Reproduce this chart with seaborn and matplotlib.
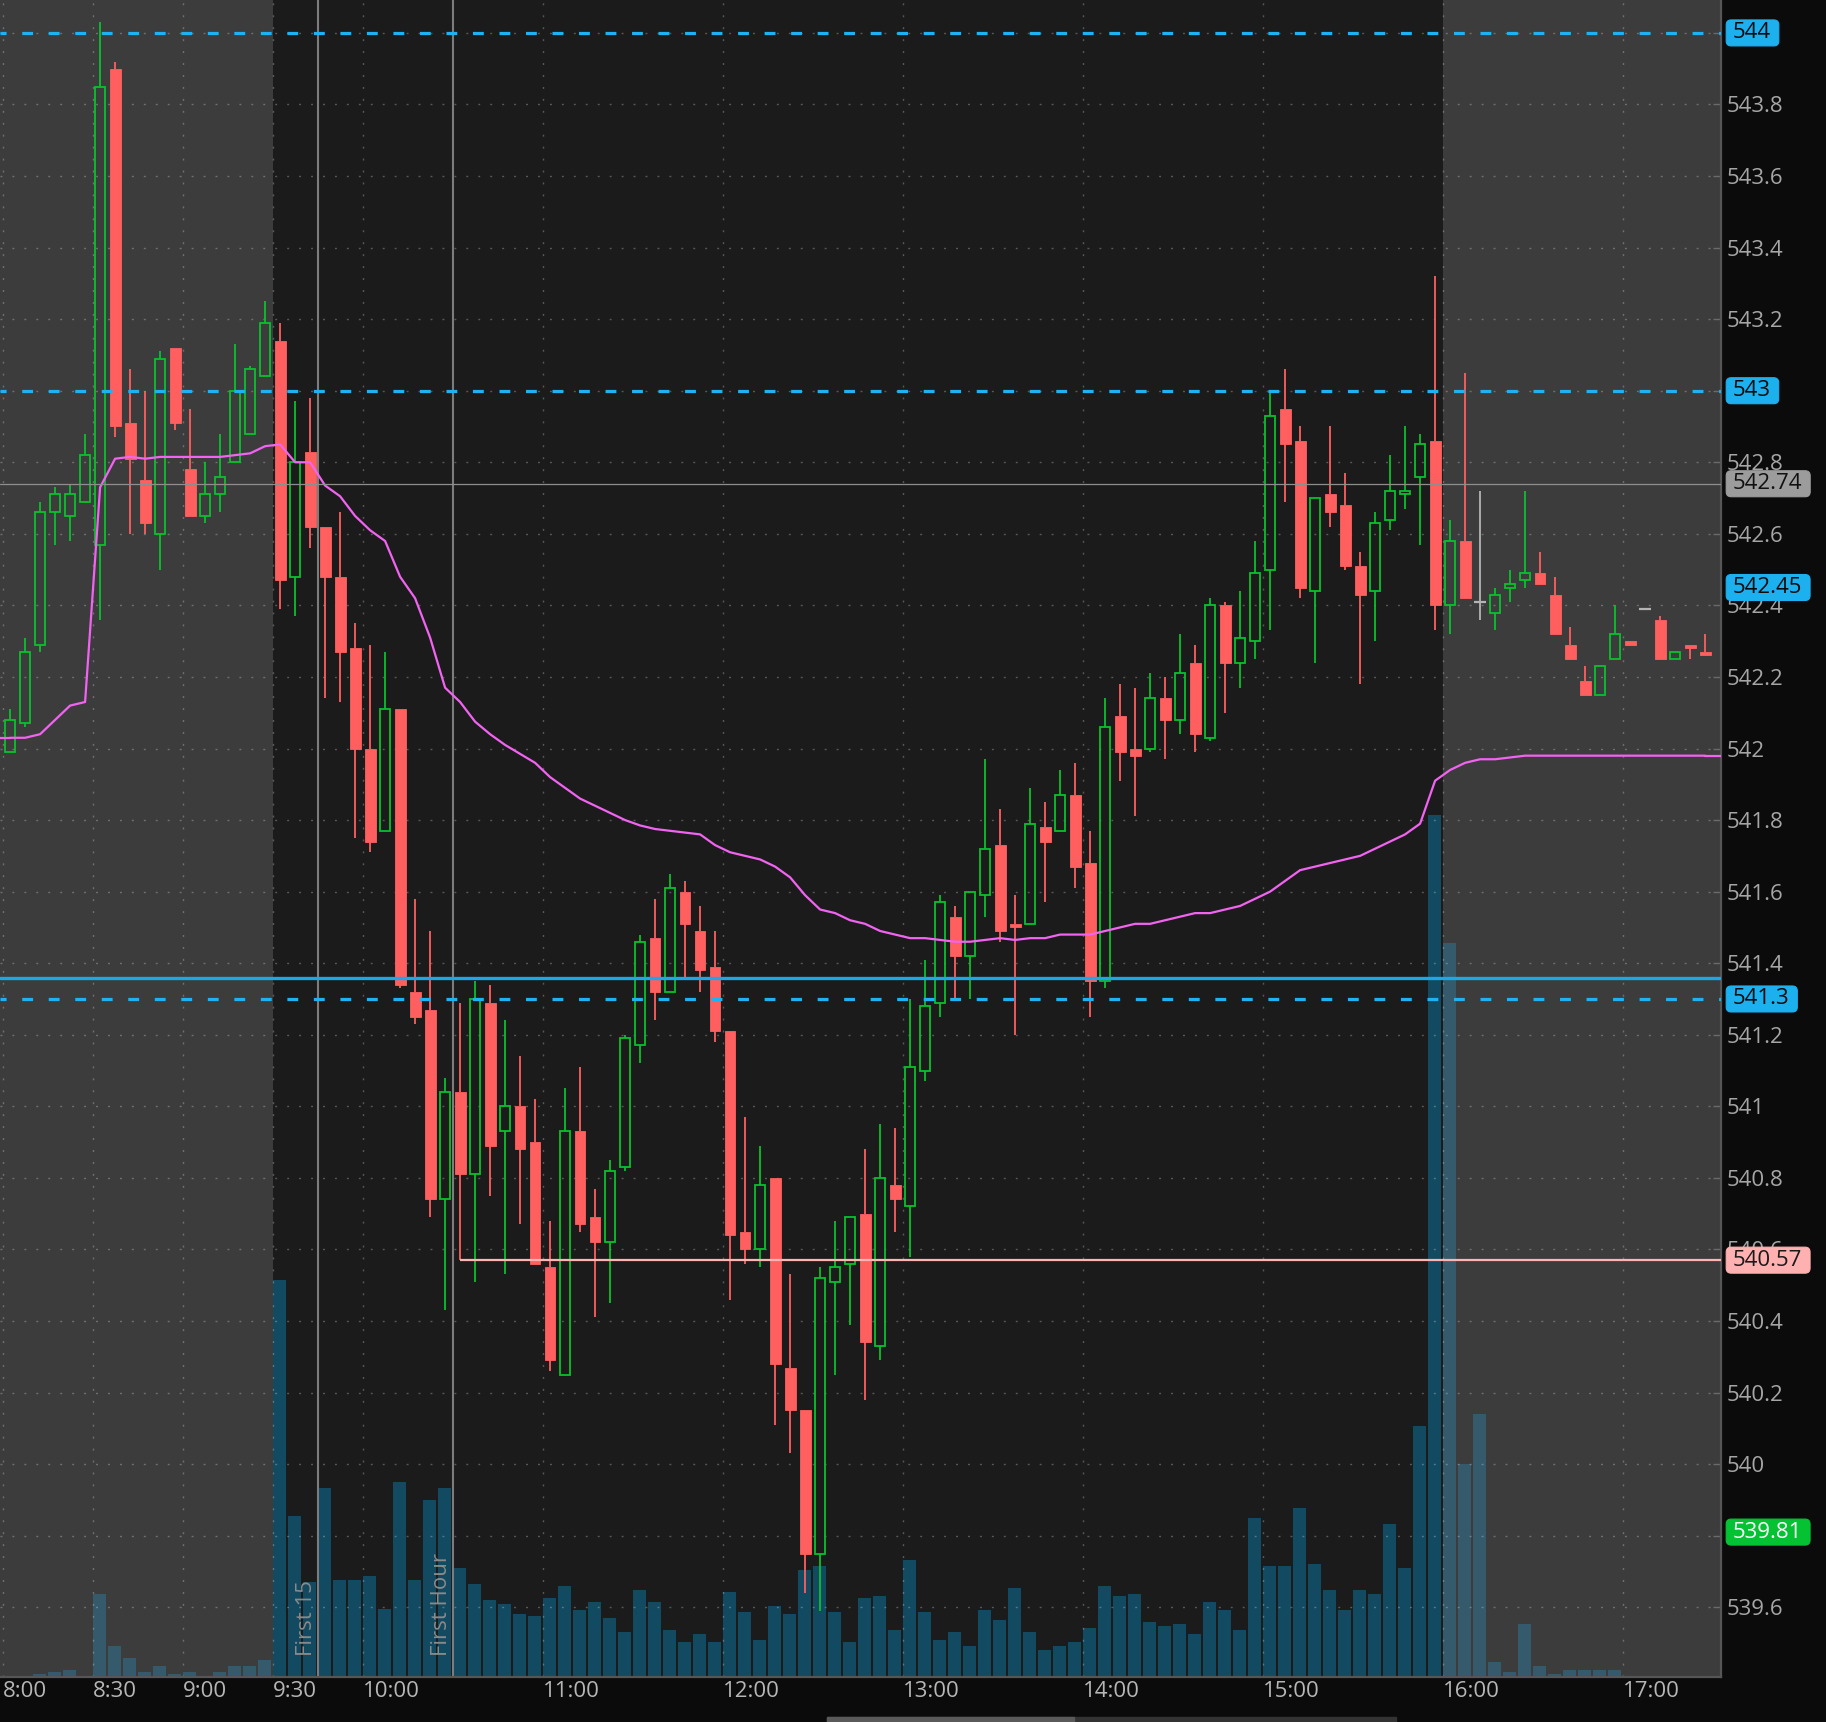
import numpy as np
import pandas as pd
import matplotlib
matplotlib.use("Agg")
import matplotlib.pyplot as plt
from matplotlib.patches import FancyBboxPatch, Rectangle
import seaborn as sns

# ---------------- data (5-minute candles starting 8:00) ----------------
opens = [541.99, 542.07, 542.29, 542.66, 542.65, 542.69, 542.57, 543.90, 542.91, 542.75,
         542.60, 543.12, 542.78, 542.65, 542.71, 542.80, 542.88, 543.04, 543.14, 542.48,
         542.83, 542.62, 542.48, 542.28, 542.00, 541.77, 542.11, 541.32, 541.27, 540.74,
         541.04, 540.81, 541.29, 540.93, 541.00, 540.90, 540.55, 540.25, 540.93, 540.69,
         540.62, 540.83, 541.17, 541.47, 541.32, 541.60, 541.49, 541.39, 541.21, 540.65,
         540.60, 540.80, 540.27, 540.15, 539.75, 540.51, 540.56, 540.70, 540.33, 540.78,
         540.72, 541.10, 541.29, 541.53, 541.42, 541.59, 541.73, 541.51, 541.51, 541.78,
         541.77, 541.87, 541.68, 541.35, 542.09, 542.00, 542.00, 542.14, 542.08, 542.24,
         542.03, 542.40, 542.24, 542.30, 542.50, 542.95, 542.86, 542.44, 542.71, 542.68,
         542.51, 542.44, 542.64, 542.71, 542.76, 542.86, 542.40, 542.58, 542.41, 542.38,
         542.45, 542.47, 542.49, 542.43, 542.29, 542.19, 542.15, 542.25, 542.30, 542.39,
         542.36, 542.25, 542.29, 542.27]
highs = [542.11, 542.31, 542.69, 542.73, 542.74, 542.88, 544.03, 543.92, 543.06, 543.00,
         543.11, 543.12, 542.95, 542.80, 542.88, 543.13, 543.07, 543.25, 543.19, 542.97,
         542.98, 542.62, 542.66, 542.35, 542.29, 542.27, 542.11, 541.58, 541.49, 541.08,
         541.29, 541.35, 541.34, 541.24, 541.14, 541.02, 540.68, 541.05, 541.11, 540.77,
         540.85, 541.20, 541.48, 541.58, 541.65, 541.63, 541.56, 541.49, 541.21, 540.97,
         540.89, 540.80, 540.53, 540.15, 540.55, 540.68, 540.69, 540.88, 540.95, 540.94,
         541.30, 541.41, 541.59, 541.56, 541.60, 541.97, 541.83, 541.59, 541.89, 541.85,
         541.94, 541.96, 541.77, 542.14, 542.18, 542.17, 542.21, 542.20, 542.32, 542.29,
         542.42, 542.41, 542.44, 542.58, 543.00, 543.06, 542.90, 542.70, 542.90, 542.77,
         542.55, 542.66, 542.82, 542.90, 542.88, 543.32, 542.64, 543.05, 542.72, 542.45,
         542.50, 542.72, 542.55, 542.48, 542.34, 542.23, 542.23, 542.40, 542.30, 542.39,
         542.37, 542.27, 542.29, 542.32]
lows = [541.99, 542.06, 542.27, 542.57, 542.58, 542.69, 542.36, 542.87, 542.60, 542.60,
        542.50, 542.89, 542.65, 542.63, 542.66, 542.80, 542.88, 543.04, 542.39, 542.37,
        542.56, 542.14, 542.13, 541.75, 541.71, 541.77, 541.33, 541.23, 540.69, 540.43,
        540.57, 540.51, 540.75, 540.53, 540.67, 540.56, 540.26, 540.25, 540.65, 540.41,
        540.45, 540.82, 541.12, 541.24, 541.32, 541.36, 541.32, 541.18, 540.46, 540.56,
        540.55, 540.11, 540.03, 539.64, 539.59, 540.25, 540.39, 540.18, 540.29, 540.65,
        540.58, 541.07, 541.25, 541.30, 541.30, 541.53, 541.46, 541.20, 541.51, 541.57,
        541.77, 541.61, 541.25, 541.33, 541.91, 541.81, 541.99, 541.97, 542.04, 541.99,
        542.02, 542.10, 542.17, 542.25, 542.33, 542.69, 542.42, 542.24, 542.62, 542.50,
        542.18, 542.30, 542.61, 542.67, 542.57, 542.33, 542.32, 542.42, 542.36, 542.33,
        542.41, 542.45, 542.46, 542.32, 542.25, 542.15, 542.15, 542.25, 542.29, 542.39,
        542.25, 542.25, 542.25, 542.26]
closes = [542.08, 542.27, 542.66, 542.71, 542.71, 542.82, 543.85, 542.90, 542.81, 542.63,
          543.09, 542.91, 542.65, 542.71, 542.76, 543.00, 543.06, 543.19, 542.47, 542.80,
          542.62, 542.48, 542.27, 542.00, 541.74, 542.11, 541.34, 541.25, 540.74, 541.04,
          540.81, 541.30, 540.89, 541.00, 540.88, 540.56, 540.29, 540.93, 540.67, 540.62,
          540.82, 541.19, 541.46, 541.32, 541.61, 541.51, 541.38, 541.21, 540.64, 540.60,
          540.78, 540.28, 540.15, 539.75, 540.52, 540.55, 540.69, 540.34, 540.80, 540.74,
          541.11, 541.28, 541.57, 541.42, 541.60, 541.72, 541.49, 541.50, 541.79, 541.74,
          541.87, 541.67, 541.35, 542.06, 541.99, 541.98, 542.14, 542.08, 542.21, 542.04,
          542.40, 542.24, 542.31, 542.49, 542.93, 542.85, 542.45, 542.70, 542.66, 542.51,
          542.43, 542.63, 542.72, 542.72, 542.85, 542.40, 542.58, 542.42, 542.41, 542.43,
          542.46, 542.49, 542.46, 542.32, 542.25, 542.15, 542.23, 542.32, 542.29, 542.39,
          542.25, 542.27, 542.28, 542.26]
volumes_k = [0, 0, 3, 5, 7, 0, 83, 31, 19, 5,
             11, 3, 5, 1, 5, 11, 11, 17, 397, 161,
             95, 189, 97, 97, 101, 68, 195, 97, 177, 189,
             109, 93, 77, 73, 63, 61, 79, 91, 67, 75,
             59, 45, 87, 75, 47, 35, 43, 35, 85, 65,
             37, 71, 63, 107, 111, 65, 35, 79, 81, 47,
             117, 65, 37, 45, 31, 67, 57, 89, 45, 27,
             31, 35, 49, 91, 81, 83, 55, 51, 53, 43,
             75, 67, 47, 159, 111, 111, 169, 113, 87, 67,
             87, 83, 153, 109, 251, 862, 734, 213, 263, 15,
             5, 53, 11, 3, 7, 7, 7, 7, 0, 0,
             0, 0, 0, 0]
vwap = [542.03, 542.03, 542.04, 542.08, 542.12, 542.13, 542.73, 542.81, 542.815, 542.81,
        542.815, 542.815, 542.815, 542.815, 542.815, 542.82, 542.825, 542.845, 542.85, 542.80,
        542.80, 542.735, 542.705, 542.65, 542.61, 542.58, 542.48, 542.42, 542.31, 542.17,
        542.13, 542.075, 542.04, 542.01, 541.985, 541.96, 541.92, 541.89, 541.86, 541.84,
        541.82, 541.80, 541.785, 541.775, 541.77, 541.765, 541.76, 541.73, 541.71, 541.70,
        541.69, 541.67, 541.64, 541.59, 541.55, 541.54, 541.52, 541.51, 541.49, 541.48,
        541.47, 541.47, 541.465, 541.46, 541.46, 541.465, 541.47, 541.465, 541.47, 541.47,
        541.48, 541.48, 541.48, 541.49, 541.50, 541.51, 541.51, 541.52, 541.53, 541.54,
        541.54, 541.55, 541.56, 541.58, 541.60, 541.63, 541.66, 541.67, 541.68, 541.69,
        541.70, 541.72, 541.74, 541.76, 541.79, 541.91, 541.94, 541.96, 541.97, 541.97,
        541.975, 541.98, 541.98, 541.98, 541.98, 541.98, 541.98, 541.98, 541.98, 541.98,
        541.98, 541.98, 541.98, 541.98]

time_labels = ['8:00', '8:30', '9:00', '9:30', '10:00', '11:00', '12:00',
               '13:00', '14:00', '15:00', '16:00', '17:00']
session_open = '9:30'
session_close = '16:00'
first15_time = '9:45'
first_hour_time = '10:30'

dashed_levels = [544.0, 543.0, 541.3]
solid_level = 541.36
last_level = 542.74
low_level = 540.57
low_level_start = '10:30'
badges = [('544', 544.0, '#1cb0ef', '#0b0b0b'),
          ('543', 543.0, '#1cb0ef', '#0b0b0b'),
          ('542.74', 542.74, '#9c9c9c', '#111111'),
          ('542.45', 542.45, '#1cb0ef', '#0b0b0b'),
          ('541.3', 541.3, '#1cb0ef', '#0b0b0b'),
          ('540.57', 540.57, '#ffb0b0', '#1a1a1a'),
          ('539.81', 539.81, '#05c232', '#ffffff')]
price_ticks = [539.6, 539.8, 540.0, 540.2, 540.4, 540.6, 540.8, 541.0, 541.2, 541.4,
               541.6, 541.8, 542.0, 542.2, 542.4, 542.6, 542.8, 543.0, 543.2, 543.4,
               543.6, 543.8, 544.0]
hidden_tick_labels = [539.8, 543.0, 544.0]   # fully covered by badges


def to_min(t):
    hh, mm = t.split(':')
    return (int(hh) - 8) * 60 + int(mm)


# ---------------- style ----------------
sns.set_theme(style='dark')
plt.rcParams['font.family'] = ['Open Sans', 'DejaVu Sans']
plt.rcParams['axes.axisbelow'] = True

BG = '#1b1b1b'
SHADE = '#3c3c3c'
GREEN = '#08c22c'
RED = '#ff5f5f'
GRAYC = '#b4b4b4'

W, H = 1826, 1722
fig = plt.figure(figsize=(W / 100, H / 100), dpi=100, facecolor='#0b0b0b')
ax_l, ax_b, ax_w, ax_h = 0, 45 / H, 1720.7 / W, 1677 / H
ax2 = fig.add_axes([ax_l, ax_b, ax_w, ax_h])
ax = fig.add_axes([ax_l, ax_b, ax_w, ax_h], sharex=ax2)
ax2.set_zorder(0)
ax.set_zorder(1)
ax.patch.set_visible(False)
ax2.set_facecolor(BG)

df = pd.DataFrame({'open': opens, 'high': highs, 'low': lows, 'close': closes,
                   'vol': volumes_k, 'vwap': vwap})
df['slot'] = np.arange(len(df)) * 5.0
df['mid'] = df['slot'] + 2.5

x0, x1 = -2.6 / 3, (1720.7 - 2.6) / 3
ymin, ymax = 539.405, 544.092

# shading of extended hours + volume
so, sc = to_min(session_open), to_min(session_close)
ax2.axvspan(x0 - 5, so, color=SHADE, lw=0, zorder=0)
ax2.axvspan(sc, x1 + 5, color=SHADE, lw=0, zorder=0)
ext = (df['slot'] < so) | (df['slot'] >= sc)
vcols = np.where(ext, '#355a6b', '#124a62')
ax2.bar(df['slot'] + 0.05, df['vol'], width=4.5, align='edge', color=vcols,
        lw=0, zorder=1)
ax2.set_ylim(0, 1677)
ax2.set_yticks([])
ax2.tick_params(axis='both', which='both', length=0, labelbottom=False,
                labelleft=False, labelright=False, labeltop=False)
for s in ax2.spines.values():
    s.set_visible(False)

# reference vertical lines
for t, lab in [(first15_time, 'First 15'), (first_hour_time, 'First Hour')]:
    xm = to_min(t)
    ax.axvline(xm, color='#7c7c7c', lw=1.5, zorder=1.5)
    ax.text(xm - 0.2, 0.0125, lab, rotation=90, ha='right', va='bottom',
            transform=ax.get_xaxis_transform(), color='#8a8a8a', fontsize=16,
            zorder=1.6)

# candles
o = df['open'].values; c = df['close'].values
h = df['high'].values; l = df['low'].values
mid = df['mid'].values
up = c > o; dn = c < o; fl = ~(up | dn)
cols = np.where(up, GREEN, np.where(dn, RED, GRAYC))
bhi = np.maximum(o, c); blo = np.minimum(o, c)
ax.vlines(mid, bhi, h, colors=cols, lw=1.3, zorder=3)
ax.vlines(mid, l, blo, colors=cols, lw=1.3, zorder=3)
ax.bar(mid[dn], (o - c)[dn], bottom=c[dn], width=3.6, color=RED, edgecolor=RED,
       lw=0.6, zorder=3)
ax.bar(mid[up], (c - o)[up], bottom=o[up], width=3.3, facecolor='none',
       edgecolor=GREEN, lw=1.3, zorder=3)
ax.hlines(o[fl], mid[fl] - 1.9, mid[fl] + 1.9, colors=GRAYC, lw=1.6, zorder=3)

# VWAP (extended flat to both plot edges like the platform does)
VW = '#f263f2'
sns.lineplot(data=df, x='mid', y='vwap', ax=ax, color=VW, lw=1.6,
             zorder=4, legend=False)
ax.plot([x0, mid[0]], [vwap[0], vwap[0]], color=VW, lw=1.6, zorder=4)
ax.plot([mid[-1], x1], [vwap[-1], vwap[-1]], color=VW, lw=1.6, zorder=4)

# horizontal levels
for lv in dashed_levels:
    ax.axhline(lv, color='#1db2f2', lw=2.3, linestyle=(1.5, (3.4, 4.9)), zorder=5)
ax.axhline(solid_level, color='#1ca8e8', lw=2.4, zorder=5)
ax.axhline(last_level, color='#8e8e8e', lw=0.9, zorder=5)
ax.hlines(low_level, to_min(low_level_start) + 2.5, x1, color='#ffb4b4', lw=1.6,
          zorder=5)

ax.set_xlim(x0, x1)
ax.set_ylim(ymin, ymax)
ax.set_xlabel('')
ax.set_ylabel('')

# grid + ticks
ax.set_xticks([to_min(t) for t in time_labels])
ax.set_xticklabels(time_labels)
for lbl in ax.get_xticklabels():
    lbl.set_ha('left')
ax.yaxis.tick_right()
ax.set_yticks(price_ticks)
ax.set_yticklabels(['' if any(abs(v - hv) < 1e-9 for hv in hidden_tick_labels)
                    else f'{v:g}' for v in price_ticks])
ax.grid(True, color='white', alpha=0.27, lw=1.0, linestyle=(0, (1.4, 7.2)))
ax.tick_params(axis='x', length=0, pad=3, labelsize=16, labelcolor='#b6b6b6')
ax.tick_params(axis='y', direction='in', length=6, width=1, color='#6a6a6a',
               labelsize=16, labelcolor='#a6a6a6', pad=4.5, right=True, left=False)
for side in ['top', 'left']:
    ax.spines[side].set_visible(False)
for side in ['right', 'bottom']:
    ax.spines[side].set_visible(True)
    ax.spines[side].set_color('#565656')
    ax.spines[side].set_linewidth(1.6)

# price badges in a pixel-wide overlay axis sharing the price scale
axb = fig.add_axes([1720.7 / W, ax_b, (W - 1720.7) / W, ax_h], sharey=ax)
axb.set_zorder(5)
axb.patch.set_visible(False)
axb.set_xlim(0, W - 1720.7)
axb.axis('off')
px_per_price = 1677 / (ymax - ymin)
fig.canvas.draw()
renderer = fig.canvas.get_renderer()
for txt, lv, fc, tc in badges:
    t = axb.text(12.0, lv, txt, ha='left', va='center', fontsize=16, color=tc,
                 zorder=7)
    bb = t.get_window_extent(renderer)
    wpx = bb.width
    half = 13 / px_per_price
    patch = FancyBboxPatch((5.5, lv - half), wpx + 14.5, 2 * half,
                           boxstyle='round,pad=0,rounding_size=5',
                           mutation_aspect=1 / px_per_price,
                           fc=fc, ec=fc, lw=0.8, zorder=6, clip_on=False)
    axb.add_patch(patch)

# scrollbar remnant at the bottom
fig.patches.append(Rectangle((827 / W, 0), (1396 - 827) / W, 5 / H,
                             transform=fig.transFigure, color='#333333'))
fig.patches.append(Rectangle((827 / W, 0), (1074 - 827) / W, 5 / H,
                             transform=fig.transFigure, color='#5a5a5a'))

fig.savefig('out.png', dpi=100, facecolor=fig.get_facecolor())
